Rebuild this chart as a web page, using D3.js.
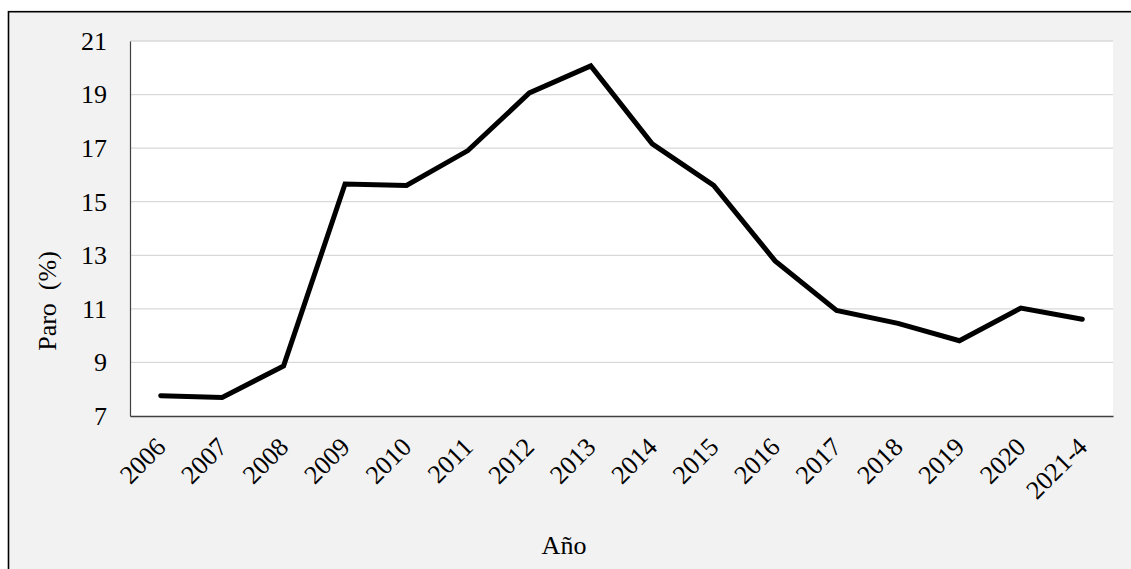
<!DOCTYPE html>
<html>
<head>
<meta charset="utf-8">
<script src="https://cdn.jsdelivr.net/npm/d3@7"></script>
<style>
html,body{margin:0;padding:0;background:#fff;}
svg{display:block;}
text{font-family:"Liberation Serif","Times New Roman",serif;fill:#000;}
</style>
</head>
<body>
<svg id="chart" width="1131" height="569"></svg>
<script>
const categories = ["2006","2007","2008","2009","2010","2011","2012","2013","2014","2015","2016","2017","2018","2019","2020","2021-4"];
const paro = [7.76,7.69,8.87,15.66,15.61,16.91,19.06,20.07,17.16,15.61,12.79,10.94,10.46,9.81,11.03,10.61];
const yTicks = [7,9,11,13,15,17,19,21];
const yTitle = "Paro  (%)";
const xTitle = "Año";

const svg = d3.select("#chart");
const plot = {left:130, right:1113, top:41, bottom:416};
const FS = "26px";

// outer frame (cut off at right and bottom)
svg.append("rect").attr("x",8.5).attr("y",11.7).attr("width",1200).attr("height",700)
  .attr("fill","#f2f2f2").attr("stroke","#000").attr("stroke-width",1.6);

// plot area
svg.append("rect").attr("x",plot.left).attr("y",plot.top)
  .attr("width",plot.right-plot.left).attr("height",plot.bottom-plot.top).attr("fill","#fff");

const x = d3.scaleBand().domain(categories).range([plot.left, plot.right]).padding(0);
const y = d3.scaleLinear().domain([7,21]).range([plot.bottom, plot.top]);

// gridlines
svg.append("g").selectAll("line").data(yTicks.filter(t=>t!==7)).join("line")
  .attr("x1",plot.left).attr("x2",plot.right)
  .attr("y1",d=>y(d)).attr("y2",d=>y(d))
  .attr("stroke","#d9d9d9").attr("stroke-width",1.3);

// y axis
const yAxis = svg.append("g").attr("transform",`translate(${plot.left},0)`)
  .call(d3.axisLeft(y).tickValues(yTicks).tickSize(0).tickPadding(23).tickFormat(d3.format("d")));
yAxis.attr("font-family",null).attr("font-size",null);
yAxis.select(".domain").attr("stroke","#404040").attr("stroke-width",1.2);
yAxis.selectAll("text").style("font-size",FS).style("font-family","'Liberation Serif'").attr("fill","#000");

// x axis
const xAxis = svg.append("g").attr("transform",`translate(0,${plot.bottom})`)
  .call(d3.axisBottom(x).tickSize(0).tickPadding(0));
xAxis.attr("font-family",null).attr("font-size",null);
xAxis.select(".domain").attr("stroke","#404040").attr("stroke-width",1.6);
xAxis.selectAll(".tick text")
  .style("font-size",FS).style("font-family","'Liberation Serif'").attr("fill","#000")
  .attr("text-anchor","end")
  .attr("y",0).attr("dy","0.35em")
  .attr("transform","translate(0,26) rotate(-45)");

// line
const line = d3.line().x((d,i)=>x(categories[i])+x.bandwidth()/2).y(d=>y(d));
svg.append("path").datum(paro).attr("d",line)
  .attr("fill","none").attr("stroke","#000").attr("stroke-width",5)
  .attr("stroke-linejoin","miter").attr("stroke-linecap","round");

// titles
svg.append("text").attr("transform","translate(56,301) rotate(-90)")
  .attr("text-anchor","middle").style("font-size",FS).style("white-space","pre")
  .text(yTitle);
svg.append("text").attr("x",564).attr("y",554)
  .attr("text-anchor","middle").style("font-size",FS).text(xTitle);
</script>
</body>
</html>
